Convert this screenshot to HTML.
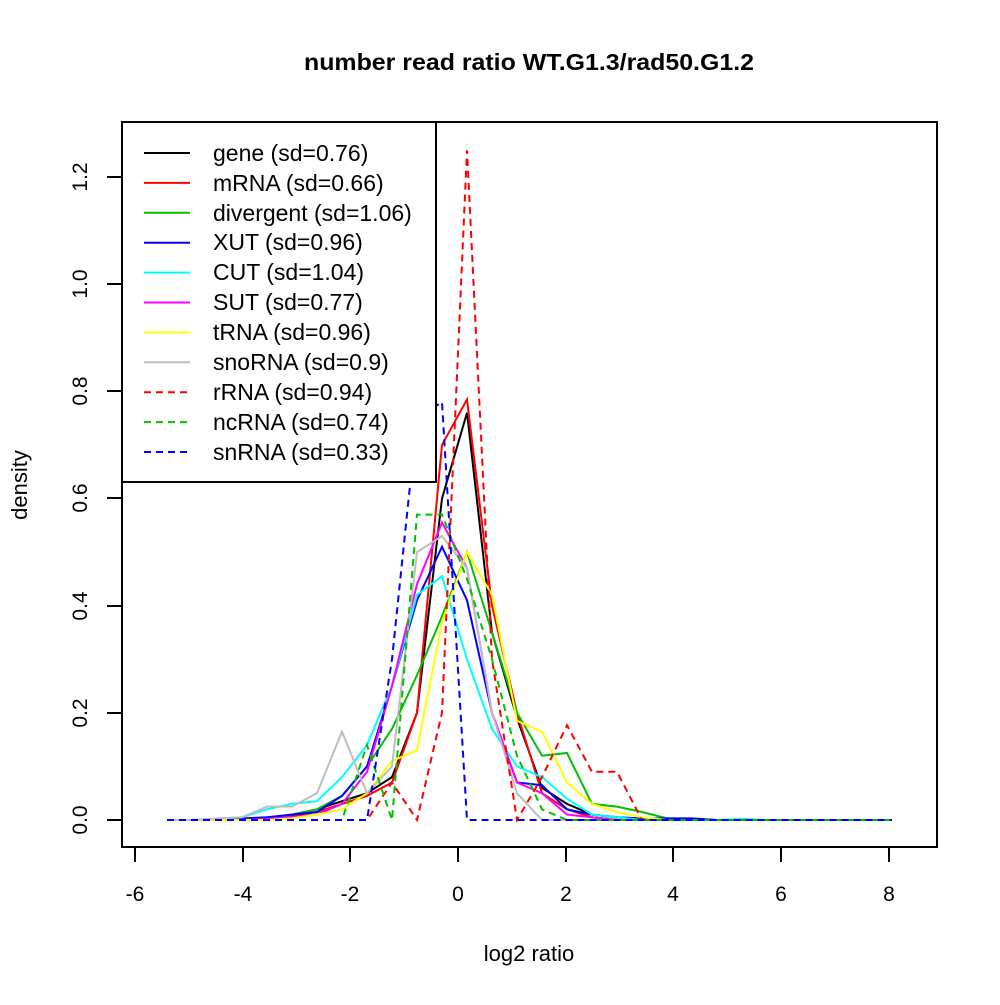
<!DOCTYPE html>
<html><head><style>
html,body{margin:0;padding:0;background:#fff;}
svg text{font-family:"Liberation Sans",sans-serif;}
</style></head><body>
<svg id="s" width="1000" height="1000" xmlns="http://www.w3.org/2000/svg">
<rect width="1000" height="1000" fill="#fff"/>
<text x="529" y="70" font-size="23" font-weight="bold" text-anchor="middle" textLength="450" lengthAdjust="spacingAndGlyphs">number read ratio WT.G1.3/rad50.G1.2</text>
<g id="series" fill="none" stroke-width="2"></g>
<rect x="122" y="122" width="815" height="725" fill="none" stroke="#000" stroke-width="2"/>
<g stroke="#000" stroke-width="2">
<line x1="135" y1="847" x2="889" y2="847"/>
<line x1="135" y1="847" x2="135" y2="862"/><line x1="243" y1="847" x2="243" y2="862"/><line x1="350" y1="847" x2="350" y2="862"/><line x1="458" y1="847" x2="458" y2="862"/><line x1="566" y1="847" x2="566" y2="862"/><line x1="673" y1="847" x2="673" y2="862"/><line x1="781" y1="847" x2="781" y2="862"/><line x1="889" y1="847" x2="889" y2="862"/>
<line x1="122" y1="820" x2="122" y2="177"/>
<line x1="107" y1="820" x2="122" y2="820"/><line x1="107" y1="713" x2="122" y2="713"/><line x1="107" y1="606" x2="122" y2="606"/><line x1="107" y1="498" x2="122" y2="498"/><line x1="107" y1="391" x2="122" y2="391"/><line x1="107" y1="284" x2="122" y2="284"/><line x1="107" y1="177" x2="122" y2="177"/>
</g>
<g font-size="21" text-anchor="middle">
<text x="135" y="901">-6</text><text x="243" y="901">-4</text><text x="350" y="901">-2</text><text x="458" y="901">0</text><text x="566" y="901">2</text><text x="673" y="901">4</text><text x="781" y="901">6</text><text x="889" y="901">8</text>
<text x="529" y="961" font-size="22">log2 ratio</text>
<text transform="translate(27,485) rotate(-90)" font-size="22">density</text>
<text transform="translate(87,820) rotate(-90)">0.0</text>
<text transform="translate(87,713) rotate(-90)">0.2</text>
<text transform="translate(87,606) rotate(-90)">0.4</text>
<text transform="translate(87,498) rotate(-90)">0.6</text>
<text transform="translate(87,391) rotate(-90)">0.8</text>
<text transform="translate(87,284) rotate(-90)">1.0</text>
<text transform="translate(87,177) rotate(-90)">1.2</text>
</g>
<rect x="122" y="122" width="314" height="360" fill="#fff" stroke="#000" stroke-width="2"/>
<g id="leg" stroke-width="2"></g>
<g font-size="23">
<text x="213" y="161">gene (sd=0.76)</text>
<text x="213" y="191">mRNA (sd=0.66)</text>
<text x="213" y="221">divergent (sd=1.06)</text>
<text x="213" y="250">XUT (sd=0.96)</text>
<text x="213" y="280">CUT (sd=1.04)</text>
<text x="213" y="310">SUT (sd=0.77)</text>
<text x="213" y="340">tRNA (sd=0.96)</text>
<text x="213" y="370">snoRNA (sd=0.9)</text>
<text x="213" y="400">rRNA (sd=0.94)</text>
<text x="213" y="430">ncRNA (sd=0.74)</text>
<text x="213" y="460">snRNA (sd=0.33)</text>
</g>
<script>
var S=[
["#000","",{4:.003,5:.01,6:.02,7:.035,8:.05,9:.08,10:.2,11:.6,12:.76,13:.35,14:.19,15:.06,16:.03,17:.01,18:.005}],
["#f00","",{4:.002,5:.008,6:.015,7:.03,8:.045,9:.07,10:.2,11:.7,12:.785,13:.4,14:.2,15:.05,16:.02,17:.005}],
["#00c000","",{4:.003,5:.01,6:.02,7:.045,8:.1,9:.17,10:.27,11:.38,12:.5,13:.35,14:.2,15:.12,16:.125,17:.03,18:.025,19:.015,20:.003}],
["#00f","",{3:.003,4:.005,5:.01,6:.015,7:.045,8:.1,9:.25,10:.41,11:.51,12:.41,13:.2,14:.07,15:.065,16:.02,17:.01,18:.005,19:.003,20:.003,21:.003}],
["#0ff","",{2:.002,3:.005,4:.02,5:.03,6:.035,7:.08,8:.14,9:.25,10:.42,11:.455,12:.3,13:.17,14:.1,15:.08,16:.04,17:.01,18:.005,23:.002}],
["#f0f","",{4:.002,5:.005,6:.01,7:.03,8:.09,9:.25,10:.44,11:.555,12:.47,13:.2,14:.07,15:.05,16:.01,17:.005}],
["#ff0","",{5:.003,6:.01,7:.02,8:.05,9:.11,10:.13,11:.37,12:.5,13:.42,14:.185,15:.165,16:.07,17:.03,18:.015,19:.005}],
["#bebebe","",{2:.003,3:.005,4:.025,5:.025,6:.05,7:.165,8:.05,9:.1,10:.5,11:.53,12:.47,13:.2,14:.05}],
["#f00","7,5",{9:.07,11:.2,12:1.25,13:.3,15:.08,16:.177,17:.09,18:.09}],
["#00c000","7,5",{8:.14,10:.57,11:.57,12:.45,13:.3,14:.12,15:.02}],
["#00f","7,5",{9:.3,10:.75,11:.78}]
];
var g=document.getElementById('series'),L=document.getElementById('leg'),ns="http://www.w3.org/2000/svg";
S.forEach(function(s,k){var p=[];for(var i=0;i<30;i++){var v=s[2][i]||0;p.push((167+25*i)+","+(820-535.8*v).toFixed(1));}
var e=document.createElementNS(ns,'polyline');e.setAttribute('points',p.join(' '));e.setAttribute('stroke',s[0]);if(s[1])e.setAttribute('stroke-dasharray',s[1]);g.appendChild(e);
var l=document.createElementNS(ns,'line');var y=153+29.9*k;l.setAttribute('x1',144);l.setAttribute('x2',190);l.setAttribute('y1',y);l.setAttribute('y2',y);l.setAttribute('stroke',s[0]);if(s[1])l.setAttribute('stroke-dasharray',s[1]);L.appendChild(l);});
</script>
</svg>
</body></html>
